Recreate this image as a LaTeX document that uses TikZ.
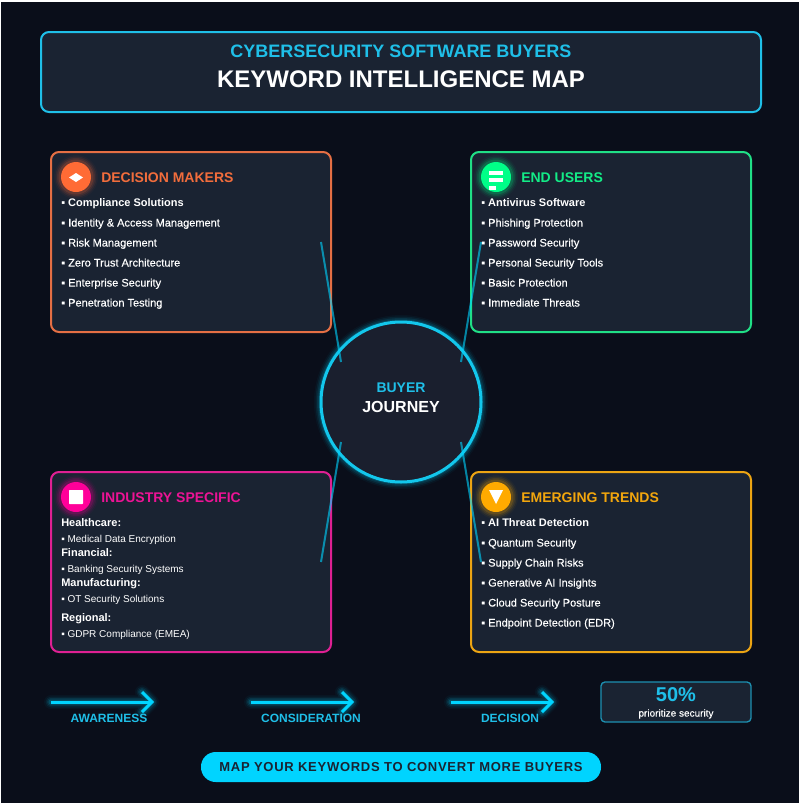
\documentclass[tikz,border=0pt]{standalone}
\usepackage{fontspec}
\setmainfont{Liberation Sans}
\usetikzlibrary{shapes.geometric}
\definecolor{bgc}{HTML}{0A0E1A}
\definecolor{cardc}{HTML}{1A2332}
\definecolor{hubc}{HTML}{1A1F2E}
\definecolor{cyanc}{HTML}{00D4FF}
\definecolor{cyant}{HTML}{1FBFE8}
\definecolor{orangec}{HTML}{FF6B35}
\definecolor{greenc}{HTML}{00FF88}
\definecolor{pinkc}{HTML}{FF0099}
\definecolor{amberc}{HTML}{FFAA00}
\newcommand{\fs}[1]{\fontsize{\fpeval{#1*0.75}pt}{\fpeval{#1*0.9}pt}\selectfont}
\newcommand{\glowdraw}[2]{\foreach \w/\o in {14/0.04,11/0.07,8/0.1,5/0.16}{\draw[#1,line width=\w*0.75pt,opacity=\o,line cap=round,line join=round] #2;}}
\tikzset{
  x=0.75pt,y=-0.75pt,
  cardbox/.style={draw=#1,line width=1.5pt,fill=cardc,rounded corners=6pt,minimum width=210pt,minimum height=135pt,inner sep=0pt},
  iconc/.style={circle,fill=#1,minimum size=22.5pt,inner sep=0pt},
  cardhead/.style={anchor=west,inner sep=0pt,font=\fs{14}\bfseries,text=#1},
  item/.style={anchor=west,inner sep=0pt,text height=6.2pt,text depth=1.8pt,font=\fs{11}\bfseries,text=white},
  plainitem/.style={anchor=west,inner sep=0pt,text height=6.2pt,text depth=1.8pt,font=\fs{11}\addfontfeature{FakeBold=0.35},text=white},
  subitem/.style={anchor=west,inner sep=0pt,text height=5.6pt,text depth=1.7pt,font=\fs{10},text=white},
  conn/.style={line width=1.5pt,draw=cyanc,opacity=0.6},
  arrowline/.style={draw=cyanc,line width=2.25pt},
  steplabel/.style={inner sep=0pt,font=\fs{12}\bfseries,text=cyant}
}
\begin{document}
\begin{tikzpicture}
\useasboundingbox (0,0) rectangle (799,803);
\fill[white] (0,0) rectangle (799,803);
\fill[bgc] (1,2) rectangle (799,803);
% header
\node[draw=cyant,line width=1.5pt,fill=cardc,rounded corners=6pt,minimum width=540pt,minimum height=60pt,inner sep=0pt] (header) at (401,72) {};
\node[inner sep=0pt,font=\fs{18}\bfseries,text=cyant] (title1) at (401,51) {CYBERSECURITY SOFTWARE BUYERS};
\node[inner sep=0pt,font=\fs{24}\bfseries,text=white] (title2) at (401,79) {KEYWORD INTELLIGENCE MAP};
% cards
\node[cardbox={orangec!80!gray}] (dm) at (191,242) {};
\node[cardbox={greenc!75!gray}] (eu) at (611,242) {};
\node[cardbox={pinkc!75!gray}] (is) at (191,562) {};
\node[cardbox={amberc!85!gray}] (et) at (611,562) {};
% icon glows
\glowdraw{orangec}{(76,177) circle (15)}
\glowdraw{greenc}{(496,177) circle (15)}
\glowdraw{pinkc}{(76,497) circle (15)}
\glowdraw{amberc}{(496,497) circle (15)}
\node[iconc=orangec] (dmi) at (76,177) {};
\node[iconc=greenc] (eui) at (496,177) {};
\node[iconc=pinkc] (isi) at (76,497) {};
\node[iconc=amberc] (eti) at (496,497) {};
\fill[white] (69,177.5) -- (76,173) -- (83,177.5) -- (76,182) -- cycle;
\fill[white] (489,171) rectangle (503,174.5);
\fill[white] (489,178) rectangle (503,182);
\fill[white] (489,186) rectangle (496,190);
\fill[white,rounded corners=0.5pt] (69,490) rectangle (83,504);
\fill[white] (489,490) -- (503,490) -- (496,504) -- cycle;
% headings
\node[cardhead={orangec!90!gray}] (dmh) at (101,178) {DECISION MAKERS};
\node[cardhead={greenc!85!gray}] (euh) at (521,178) {END USERS};
\node[cardhead={pinkc!85!gray}] (ish) at (101,498) {INDUSTRY SPECIFIC};
\node[cardhead={amberc!90!gray}] (eth) at (521,498) {EMERGING TRENDS};
% lists
\node[item] (a1) at (61,203.6) {▪ Compliance Solutions};
\node[plainitem] (a2) at (61,223.6) {▪ Identity \& Access Management};
\node[plainitem] (a3) at (61,243.6) {▪ Risk Management};
\node[plainitem] (a4) at (61,263.6) {▪ Zero Trust Architecture};
\node[plainitem] (a5) at (61,283.6) {▪ Enterprise Security};
\node[plainitem] (a6) at (61,303.6) {▪ Penetration Testing};
\node[item] (b1) at (481,203.6) {▪ Antivirus Software};
\node[plainitem] (b2) at (481,223.6) {▪ Phishing Protection};
\node[plainitem] (b3) at (481,243.6) {▪ Password Security};
\node[plainitem] (b4) at (481,263.6) {▪ Personal Security Tools};
\node[plainitem] (b5) at (481,283.6) {▪ Basic Protection};
\node[plainitem] (b6) at (481,303.6) {▪ Immediate Threats};
\node[item] (c1) at (61,523.6) {Healthcare:};
\node[subitem] (c2) at (61,539.6) {▪ Medical Data Encryption};
\node[item] (c3) at (61,553.6) {Financial:};
\node[subitem] (c4) at (61,569.6) {▪ Banking Security Systems};
\node[item] (c5) at (61,583.6) {Manufacturing:};
\node[subitem] (c6) at (61,599.6) {▪ OT Security Solutions};
\node[item] (c7) at (61,618.6) {Regional:};
\node[subitem] (c8) at (61,634.6) {▪ GDPR Compliance (EMEA)};
\node[item] (d1) at (481,523.6) {▪ AI Threat Detection};
\node[plainitem] (d2) at (481,543.6) {▪ Quantum Security};
\node[plainitem] (d3) at (481,563.6) {▪ Supply Chain Risks};
\node[plainitem] (d4) at (481,583.6) {▪ Generative AI Insights};
\node[plainitem] (d5) at (481,603.6) {▪ Cloud Security Posture};
\node[plainitem] (d6) at (481,623.6) {▪ Endpoint Detection (EDR)};
% hub
\glowdraw{cyanc}{(401,402) circle (80)}
\node[circle,draw=cyanc!85!gray,line width=2.25pt,fill=hubc,minimum size=120pt,inner sep=0pt] (hub) at (401,402) {};
\node[inner sep=0pt,font=\fs{14}\bfseries,text=cyant] (hub1) at (401,388) {BUYER};
\node[inner sep=0pt,font=\fs{16}\bfseries,text=white] (hub2) at (401,407) {JOURNEY};
% connectors
\coordinate (h1) at (341,362); \coordinate (e1) at (321,242);
\coordinate (h2) at (461,362); \coordinate (e2) at (481,242);
\coordinate (h3) at (341,442); \coordinate (e3) at (321,562);
\coordinate (h4) at (461,442); \coordinate (e4) at (481,562);
\draw[conn] (h1) -- (e1);
\draw[conn] (h2) -- (e2);
\draw[conn] (h3) -- (e3);
\draw[conn] (h4) -- (e4);
% flow arrows
\foreach \n/\xo in {p/0,q/200,r/400}{
  \coordinate (\n s) at (51+\xo,702);
  \coordinate (\n t) at (152+\xo,702);
  \coordinate (\n u) at (142+\xo,692);
  \coordinate (\n d) at (142+\xo,712);
  \glowdraw{cyanc}{(\n s) -- (\n t) (\n u) -- (\n t) -- (\n d)}
  \draw[arrowline] (\n s) -- (\n t);
  \draw[arrowline] (\n u) -- (\n t) -- (\n d);
}
\node[steplabel] (l1) at (109,718) {AWARENESS};
\node[steplabel] (l2) at (311,718) {CONSIDERATION};
\node[steplabel] (l3) at (510,718) {DECISION};
% stat
\node[draw=cyant!70!cardc,line width=1pt,fill=cardc,rounded corners=3pt,minimum width=112.5pt,minimum height=30pt,inner sep=0pt] (stat) at (676,702) {};
\node[inner sep=0pt,font=\fs{20}\bfseries,text=cyant] (stat1) at (676,695) {50\%};
\node[inner sep=0pt,font=\fs{10}\addfontfeature{FakeBold=0.2},text=white] (stat2) at (676,714) {prioritize security};
% call to action
\node[fill=cyanc,rounded corners=11pt,minimum width=300pt,minimum height=22.5pt,inner sep=0pt] (cta) at (401,767) {};
\node[inner sep=0pt,font=\fs{13}\bfseries\addfontfeature{LetterSpace=5.6},text=cardc] (ctat) at (401,767) {MAP YOUR KEYWORDS TO CONVERT MORE BUYERS};
\end{tikzpicture}
\end{document}
